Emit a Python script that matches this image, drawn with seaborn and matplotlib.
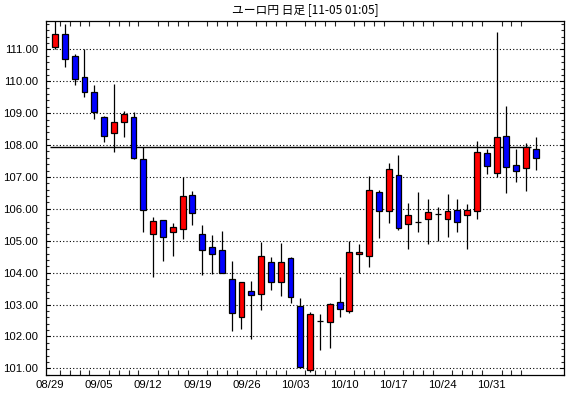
import numpy as np
import pandas as pd
import matplotlib
matplotlib.use("Agg")
import matplotlib.pyplot as plt
import seaborn as sns
from matplotlib.ticker import MultipleLocator, FixedLocator, FuncFormatter

# ---- data (EUR/JPY daily candles, 08/29 - 11/04) ----
opens = [111.08, 111.47, 110.78, 110.12, 109.68, 108.87, 108.37, 108.71, 108.87, 107.55,
         105.20, 105.65, 105.26, 105.36, 106.42, 105.20, 104.79, 104.70, 103.79, 102.60,
         103.44, 103.32, 104.32, 103.71, 104.45, 102.94, 100.95, 102.47, 102.46, 103.07,
         102.81, 104.57, 104.53, 106.52, 105.92, 107.05, 105.51, 105.60, 105.67, 105.83,
         105.67, 105.98, 105.80, 105.92, 107.74, 107.11, 108.30, 107.36, 107.27, 107.87]
highs = [112.10, 111.80, 110.87, 111.00, 109.87, 108.90, 109.91, 109.07, 109.03, 107.95,
         105.73, 105.65, 105.55, 106.99, 106.56, 105.49, 105.18, 105.31, 104.36, 103.70,
         103.74, 104.97, 104.50, 104.92, 104.50, 103.22, 102.76, 102.70, 103.04, 103.87,
         104.99, 104.90, 107.03, 106.58, 107.43, 107.69, 106.17, 106.52, 106.30, 106.07,
         106.46, 106.30, 106.15, 108.13, 107.87, 111.56, 109.21, 107.87, 108.05, 108.24]
lows = [111.00, 110.44, 109.87, 109.51, 108.82, 108.10, 107.79, 108.26, 107.55, 105.28,
        103.87, 104.37, 104.53, 105.06, 105.50, 103.93, 103.97, 103.98, 102.18, 102.24,
        101.91, 102.83, 103.45, 103.27, 103.04, 101.00, 100.90, 101.57, 101.65, 102.62,
        102.72, 104.00, 104.19, 105.09, 105.55, 105.35, 104.75, 105.28, 104.89, 104.98,
        105.13, 105.26, 104.75, 105.67, 107.08, 106.99, 106.49, 106.85, 106.57, 107.21]
closes = [111.47, 110.69, 110.06, 109.68, 109.03, 108.30, 108.71, 108.96, 107.58, 105.98,
          105.62, 105.13, 105.42, 106.39, 105.88, 104.72, 104.57, 103.98, 102.72, 103.70,
          103.29, 104.51, 103.70, 104.32, 103.24, 101.05, 102.69, 102.49, 103.01, 102.85,
          104.64, 104.64, 106.58, 105.92, 107.24, 105.41, 105.80, 105.60, 105.89, 105.83,
          105.92, 105.58, 105.95, 107.77, 107.33, 108.24, 107.30, 107.18, 107.93, 107.58]
week_labels = ["08/29", "09/05", "09/12", "09/19", "09/26",
               "10/03", "10/10", "10/17", "10/24", "10/31"]
week_label_index = [0, 5, 10, 15, 20, 25, 30, 35, 40, 45]
last_price = 107.94
title = "ユーロ円 日足 [11-05 01:05]"

# ---- style ----
sns.set_style("white")
plt.rcParams['font.family'] = ['Liberation Sans', 'DejaVu Sans']

df = pd.DataFrame({"open": opens, "high": highs, "low": lows, "close": closes})
df["i"] = np.arange(len(df))
df["bottom"] = df[["open", "close"]].min(axis=1)
df["height"] = (df["close"] - df["open"]).abs()
df["color"] = np.where(df["close"] >= df["open"], "#ff0000", "#0000ff")

fig = plt.figure(figsize=(5.7, 3.98), dpi=100)
fig.patch.set_facecolor("white")
ax = fig.add_axes([0.0802, 0.0585, 0.9098, 0.8895])
ax.set_facecolor("white")

# wicks
ax.vlines(df["i"], df["low"], df["high"], color="black", lw=0.9, zorder=2)
# bodies
ax.bar(df["i"], df["height"], bottom=df["bottom"], width=0.6, color=df["color"],
       edgecolor="black", linewidth=0.9, zorder=3)
# current price line
ax.hlines(last_price, -0.5, len(df) - 1.5, color="black", lw=1.0, zorder=1.5)

ax.set_xlim(-0.95, 51.9)
ax.set_ylim(100.80, 111.90)

# y axis
ax.yaxis.set_major_locator(MultipleLocator(1))
ax.yaxis.set_minor_locator(MultipleLocator(0.2))
ax.yaxis.set_major_formatter(FuncFormatter(lambda v, p: f"{v:.2f}"))
ax.tick_params(axis="y", which="major", direction="in", left=True, right=True,
               length=3.0, width=0.8, labelsize=8.2, pad=5.5, colors="black")
ax.tick_params(axis="y", which="minor", direction="in", left=True, right=True,
               length=2.2, width=0.8)
ax.yaxis.grid(True, which="major", linestyle=(0, (1, 2)), color="black", lw=0.8)
ax.set_axisbelow(True)

# x axis
ax.xaxis.set_minor_locator(FixedLocator(df["i"].values[:-1] - 0.5))
ax.set_xticks([i - 0.5 for i in week_label_index])
ax.set_xticklabels(week_labels)
ax.tick_params(axis="x", which="major", length=0, labelsize=8.2, pad=4, colors="black")
ax.tick_params(axis="x", which="minor", direction="in", top=True, bottom=True,
               length=3.5, width=0.8)

for s in ax.spines.values():
    s.set_color("black")
    s.set_linewidth(0.9)

fig.text(0.535, 1 - 10 / 398, title, ha="center", va="center", fontsize=8.5,
         family=["Noto Sans CJK JP", "DejaVu Sans"], color="black")

fig.savefig("out.png", dpi=100, facecolor="white")
